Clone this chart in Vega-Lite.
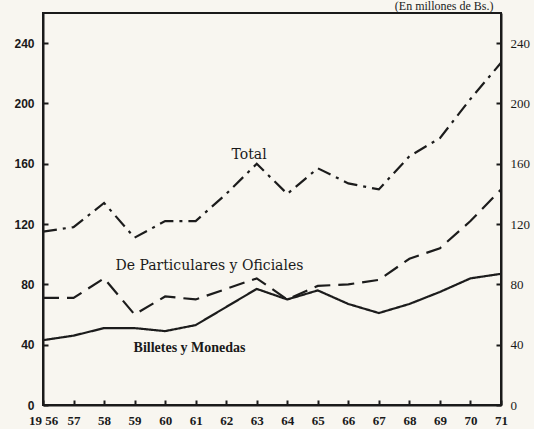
{
  "$schema": "https://vega.github.io/schema/vega-lite/v6.json",
  "autosize": {"type": "none"},
  "padding": {"left": 43, "top": 13, "right": 33, "bottom": 24},
  "width": 458,
  "height": 392,
  "background": "#f8f6f0",
  "title": {
    "text": "(En millones de Bs.)",
    "anchor": "end",
    "orient": "top",
    "offset": 0,
    "dx": -36,
    "font": "Liberation Serif",
    "fontSize": 12,
    "fontWeight": "normal",
    "color": "#222"
  },
  "config": {
    "view": {"stroke": "#1a1a1a", "strokeWidth": 2},
    "axis": {"grid": false, "title": null}
  },
  "datasets": {
    "series": [
      {"year": 1956, "series": "Total", "value": 115},
      {"year": 1957, "series": "Total", "value": 118},
      {"year": 1958, "series": "Total", "value": 134},
      {"year": 1959, "series": "Total", "value": 111},
      {"year": 1960, "series": "Total", "value": 122},
      {"year": 1961, "series": "Total", "value": 122},
      {"year": 1962, "series": "Total", "value": 140},
      {"year": 1963, "series": "Total", "value": 160},
      {"year": 1964, "series": "Total", "value": 140},
      {"year": 1965, "series": "Total", "value": 157},
      {"year": 1966, "series": "Total", "value": 147},
      {"year": 1967, "series": "Total", "value": 143},
      {"year": 1968, "series": "Total", "value": 165},
      {"year": 1969, "series": "Total", "value": 177},
      {"year": 1970, "series": "Total", "value": 203},
      {"year": 1971, "series": "Total", "value": 227},
      {"year": 1956, "series": "De Particulares y Oficiales", "value": 71},
      {"year": 1957, "series": "De Particulares y Oficiales", "value": 71},
      {"year": 1958, "series": "De Particulares y Oficiales", "value": 84},
      {"year": 1959, "series": "De Particulares y Oficiales", "value": 60},
      {"year": 1960, "series": "De Particulares y Oficiales", "value": 72},
      {"year": 1961, "series": "De Particulares y Oficiales", "value": 70},
      {"year": 1962, "series": "De Particulares y Oficiales", "value": 77},
      {"year": 1963, "series": "De Particulares y Oficiales", "value": 84},
      {"year": 1964, "series": "De Particulares y Oficiales", "value": 70},
      {"year": 1965, "series": "De Particulares y Oficiales", "value": 79},
      {"year": 1966, "series": "De Particulares y Oficiales", "value": 80},
      {"year": 1967, "series": "De Particulares y Oficiales", "value": 83},
      {"year": 1968, "series": "De Particulares y Oficiales", "value": 97},
      {"year": 1969, "series": "De Particulares y Oficiales", "value": 104},
      {"year": 1970, "series": "De Particulares y Oficiales", "value": 122},
      {"year": 1971, "series": "De Particulares y Oficiales", "value": 143},
      {"year": 1956, "series": "Billetes y Monedas", "value": 43},
      {"year": 1957, "series": "Billetes y Monedas", "value": 46},
      {"year": 1958, "series": "Billetes y Monedas", "value": 51},
      {"year": 1959, "series": "Billetes y Monedas", "value": 51},
      {"year": 1960, "series": "Billetes y Monedas", "value": 49},
      {"year": 1961, "series": "Billetes y Monedas", "value": 53},
      {"year": 1962, "series": "Billetes y Monedas", "value": 65},
      {"year": 1963, "series": "Billetes y Monedas", "value": 77},
      {"year": 1964, "series": "Billetes y Monedas", "value": 70},
      {"year": 1965, "series": "Billetes y Monedas", "value": 76},
      {"year": 1966, "series": "Billetes y Monedas", "value": 67},
      {"year": 1967, "series": "Billetes y Monedas", "value": 61},
      {"year": 1968, "series": "Billetes y Monedas", "value": 67},
      {"year": 1969, "series": "Billetes y Monedas", "value": 75},
      {"year": 1970, "series": "Billetes y Monedas", "value": 84},
      {"year": 1971, "series": "Billetes y Monedas", "value": 87}
    ],
    "labels": [
      {"year": 1962.75, "value": 166, "label": "Total"},
      {"year": 1961.45, "value": 92, "label": "De Particulares y Oficiales"}
    ],
    "boldlabels": [
      {"year": 1960.8, "value": 38, "label": "Billetes y Monedas"}
    ]
  },
  "encoding": {
    "x": {
      "field": "year",
      "type": "quantitative",
      "scale": {"domain": [1956, 1971], "nice": false, "zero": false},
      "axis": {
        "values": [1956, 1957, 1958, 1959, 1960, 1961, 1962, 1963, 1964, 1965, 1966, 1967, 1968, 1969, 1970, 1971],
        "labelExpr": "datum.value == 1956 ? '19 56' : slice(toString(datum.value), 2)",
        "labelOverlap": false,
        "domainColor": "#1a1a1a",
        "domainWidth": 2,
        "tickColor": "#1a1a1a",
        "tickWidth": 2,
        "tickSize": -5,
        "labelPadding": 14,
        "labelFont": "Liberation Serif",
        "labelFontWeight": "bold",
        "labelFontSize": 13,
        "labelColor": "#1a1a1a",
        "labelFlush": false
      }
    }
  },
  "layer": [
    {
      "data": {"name": "series"},
      "mark": {"type": "line", "color": "#1c1c1c", "strokeWidth": 2.2},
      "encoding": {
        "y": {
          "field": "value",
          "type": "quantitative",
          "scale": {"domain": [0, 260], "nice": false},
          "axis": {
            "orient": "left",
            "values": [0, 40, 80, 120, 160, 200, 240],
            "domainColor": "#1a1a1a",
            "domainWidth": 2,
            "tickColor": "#1a1a1a",
            "tickWidth": 2,
            "tickSize": -5,
            "labelPadding": 14,
            "labelFont": "Liberation Sans",
            "labelFontWeight": "bold",
            "labelFontSize": 12,
            "labelColor": "#1a1a1a"
          }
        },
        "detail": {"field": "series"},
        "strokeDash": {
          "field": "series",
          "type": "nominal",
          "scale": {
            "domain": ["Total", "De Particulares y Oficiales", "Billetes y Monedas"],
            "range": [[14, 6, 3, 6], [16, 8], [1, 0]]
          },
          "legend": null
        }
      }
    },
    {
      "data": {"name": "labels"},
      "mark": {"type": "text", "font": "DejaVu Serif", "fontSize": 14, "color": "#1a1a1a"},
      "encoding": {
        "y": {
          "field": "value",
          "type": "quantitative",
          "scale": {"domain": [0, 260], "nice": false},
          "axis": {
            "orient": "right",
            "values": [0, 40, 80, 120, 160, 200, 240],
            "domainColor": "#1a1a1a",
            "domainWidth": 2,
            "tickColor": "#1a1a1a",
            "tickWidth": 2,
            "tickSize": -5,
            "labelPadding": 14,
            "labelFont": "Liberation Serif",
            "labelFontSize": 13,
            "labelColor": "#1a1a1a"
          }
        },
        "text": {"field": "label"}
      }
    },
    {
      "data": {"name": "boldlabels"},
      "mark": {"type": "text", "font": "Liberation Serif", "fontSize": 14, "fontWeight": "bold", "color": "#1a1a1a"},
      "encoding": {
        "y": {"field": "value", "type": "quantitative", "scale": {"domain": [0, 260], "nice": false}, "axis": null},
        "text": {"field": "label"}
      }
    }
  ],
  "resolve": {"scale": {"y": "independent"}}
}
